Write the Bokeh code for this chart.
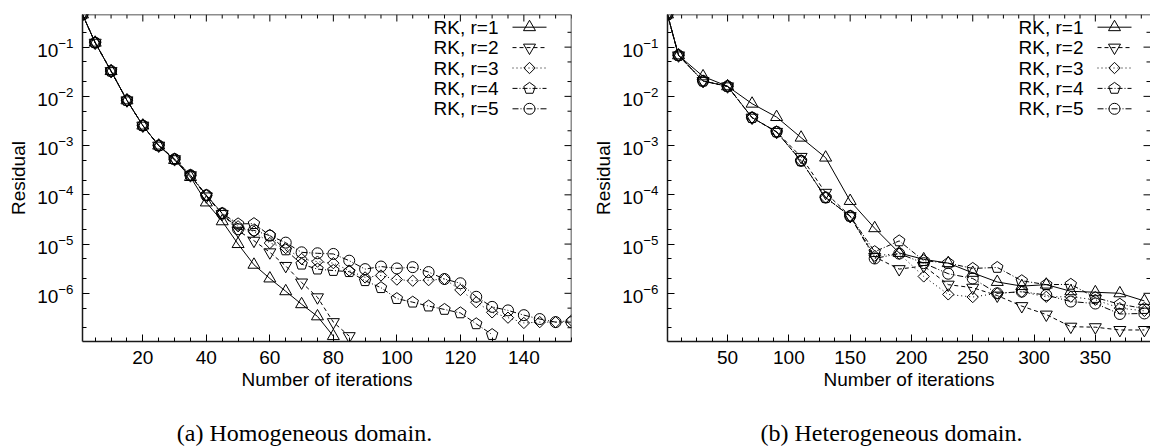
import math

from bokeh.core.properties import value
from bokeh.embed import file_html
from bokeh.layouts import column, row
from bokeh.models import FixedTicker, Range1d, Span
from bokeh.plotting import figure
from bokeh.resources import INLINE

# ---------------------------------------------------------------- data
SERIES = ["RK, r=1", "RK, r=2", "RK, r=3", "RK, r=4", "RK, r=5"]
CAPTIONS = ["(a) Homogeneous domain.", "(b) Heterogeneous domain."]
X_LABEL = "Number of iterations"
Y_LABEL = "Residual"

# homogeneous domain: residual sampled every 5 iterations
hom_iters = [1, 5, 10, 15, 20, 25, 30, 35, 40, 45, 50, 55, 60, 65, 70, 75, 80,
             85, 90, 95, 100, 105, 110, 115, 120, 125, 130, 135, 140, 145, 150, 155]
hom_r1 = [0.46, 0.123, 0.0326, 0.0083, 0.00255, 0.001, 5.1e-4, 2.3e-4, 7.0e-5,
          2.9e-5, 1.0e-5, 3.8e-6, 2.0e-6, 1.1e-6, 6.0e-7, 3.4e-7, 1.35e-7]
hom_r2 = [0.46, 0.123, 0.0326, 0.0083, 0.00255, 0.001, 5.3e-4, 2.5e-4, 9.3e-5,
          4.1e-5, 1.86e-5, 1.17e-5, 6.8e-6, 3.6e-6, 1.66e-6, 8.3e-7, 2.6e-7, 1.35e-7]
hom_r3 = [0.46, 0.123, 0.0326, 0.0083, 0.00255, 0.001, 5.3e-4, 2.5e-4, 9.8e-5,
          4.2e-5, 2.3e-5, 1.8e-5, 1.05e-5, 8.3e-6, 5.0e-6, 4.4e-6, 4.1e-6, 2.9e-6,
          2.1e-6, 2.3e-6, 1.9e-6, 1.8e-6, 1.85e-6, 1.95e-6, 1.17e-6, 6.6e-7, 4.1e-7,
          3.2e-7, 2.5e-7, 2.6e-7, 2.6e-7, 2.8e-7]
hom_r4 = [0.46, 0.123, 0.0326, 0.0083, 0.00255, 0.001, 5.3e-4, 2.5e-4, 9.8e-5,
          4.2e-5, 2.57e-5, 2.6e-5, 1.5e-5, 7.6e-6, 3.9e-6, 3.1e-6, 2.9e-6, 2.75e-6,
          1.8e-6, 1.3e-6, 7.8e-7, 6.6e-7, 5.5e-7, 4.7e-7, 4.0e-7, 2.4e-7, 1.45e-7]
hom_r5 = [0.46, 0.123, 0.0326, 0.0083, 0.00255, 0.001, 5.3e-4, 2.5e-4, 9.8e-5,
          4.2e-5, 2.0e-5, 1.9e-5, 1.48e-5, 1.07e-5, 6.8e-6, 6.5e-6, 6.3e-6, 4.6e-6,
          3.1e-6, 3.5e-6, 3.2e-6, 3.4e-6, 2.7e-6, 1.95e-6, 1.6e-6, 8.5e-7, 5.3e-7,
          4.5e-7, 3.6e-7, 3.0e-7, 2.6e-7, 2.6e-7]

# heterogeneous domain: residual sampled every 20 iterations
het_iters = [1, 10, 30, 50, 70, 90, 110, 130, 150, 170, 190, 210, 230, 250, 270,
             290, 310, 330, 350, 370, 390]
het_r1 = [0.46, 0.068, 0.0255, 0.016, 0.0071, 0.0038, 0.00145, 5.7e-4, 7.5e-5,
          2.1e-5, 6.6e-6, 4.9e-6, 4.1e-6, 2.6e-6, 1.7e-6, 1.4e-6, 1.5e-6, 1.1e-6,
          1.05e-6, 1.0e-6, 7.0e-7]
het_r2 = [0.46, 0.068, 0.0205, 0.016, 0.0037, 0.0019, 5.9e-4, 1.1e-4, 3.7e-5,
          5.5e-6, 3.1e-6, 3.6e-6, 1.5e-6, 1.3e-6, 9.0e-7, 5.5e-7, 3.7e-7, 2.1e-7,
          2.05e-7, 1.8e-7, 1.8e-7]
het_r3 = [0.46, 0.068, 0.0205, 0.016, 0.0037, 0.0019, 4.9e-4, 8.8e-5, 3.7e-5,
          5.8e-6, 6.4e-6, 2.2e-6, 9.5e-7, 8.4e-7, 1.0e-6, 1.07e-6, 8.5e-7, 8.5e-7,
          7.4e-7, 5.0e-7, 4.4e-7]
het_r4 = [0.46, 0.068, 0.0205, 0.016, 0.0037, 0.0019, 4.9e-4, 8.8e-5, 3.7e-5,
          7.0e-6, 1.16e-5, 4.6e-6, 4.1e-6, 3.2e-6, 3.35e-6, 1.8e-6, 1.5e-6, 1.52e-6,
          8.2e-7, 6.0e-7, 4.9e-7]
het_r5 = [0.46, 0.068, 0.0205, 0.016, 0.0037, 0.0019, 4.9e-4, 8.8e-5, 3.7e-5,
          5.1e-6, 6.4e-6, 4.1e-6, 2.5e-6, 2.0e-6, 1.0e-6, 1.08e-6, 9.2e-7, 6.8e-7,
          6.2e-7, 3.8e-7, 3.9e-7]

hom_ticks = [20, 40, 60, 80, 100, 120, 140]
het_ticks = [50, 100, 150, 200, 250, 300, 350]
y_ticks = [1e-6, 1e-5, 1e-4, 1e-3, 1e-2, 1e-1]

# ---------------------------------------------------------------- style
FONT = "Liberation Sans"
FONT_SIZE = "19px"
INK = "black"
BORDER = "#1a1a1a"
DASHES = ["solid", "4 3", "1 3", "5 2 1 2", "6 2 1 2 1 2"]
MARKERS = ["triangle", "inverted_triangle", "diamond", "pentagon", "circle"]

Y_MIN, Y_MAX = 1.05e-7, 0.46
PANEL_H = 400
FRAME_TOP, FRAME_BOTTOM = 14, 59
MAJOR_LEN, MINOR_LEN = 7, 4


def draw_markers(p, xs, ys, kind):
    common = dict(fill_color=None, line_color=INK, line_width=1)
    if kind == "diamond":
        p.scatter(xs, ys, marker="square", angle=math.pi / 4, size=8, **common)
    elif kind == "pentagon":
        try:
            p.ngon(x=xs, y=ys, radius=6, radius_units="screen", n=5,
                   angle=0, **common)
        except Exception:
            p.scatter(xs, ys, marker="hex", size=11, **common)
    elif kind == "circle":
        p.scatter(xs, ys, marker="circle", size=11, **common)
    else:
        p.scatter(xs, ys, marker=kind, size=12, **common)


def style_axis(ax, ticker):
    ax.ticker = ticker
    ax.major_tick_in, ax.major_tick_out = MAJOR_LEN, 0
    ax.minor_tick_in, ax.minor_tick_out = MINOR_LEN, 0
    ax.major_tick_line_color = INK
    ax.minor_tick_line_color = INK
    ax.axis_line_color = BORDER
    ax.axis_line_width = 1.5
    ax.major_label_text_font = FONT
    ax.major_label_text_font_size = FONT_SIZE
    ax.major_label_text_color = INK
    ax.major_label_standoff = 9
    ax.axis_label_text_font = FONT
    ax.axis_label_text_font_size = FONT_SIZE
    ax.axis_label_text_font_style = "normal"
    ax.axis_label_text_color = INK


def make_panel(iters, series, x_max, x_major, x_step, border_left,
               border_right, width, right_border):
    frame_w = width - border_left - border_right
    frame_h = PANEL_H - FRAME_TOP - FRAME_BOTTOM
    lo, hi = math.log10(Y_MIN), math.log10(Y_MAX)
    units_per_px = (x_max - 1) / frame_w
    decades_per_px = (hi - lo) / frame_h

    p = figure(width=width, height=PANEL_H, x_range=Range1d(1, x_max),
               y_range=Range1d(Y_MIN, Y_MAX), y_axis_type="log",
               output_backend="svg", toolbar_location=None,
               min_border_left=border_left, min_border_right=border_right,
               min_border_top=FRAME_TOP, min_border_bottom=FRAME_BOTTOM)
    p.xgrid.visible = False
    p.ygrid.visible = False
    p.outline_line_color = None
    p.background_fill_color = "white"
    p.border_fill_color = "white"

    x_minor = [v for v in (k * x_step for k in range(1, 400))
               if v <= x_max and v not in x_major]
    y_minor = [m * t / 10 for t in y_ticks + [1.0] for m in (2, 5)]
    y_minor = [v for v in y_minor if Y_MIN < v < Y_MAX]

    style_axis(p.xaxis[0], FixedTicker(ticks=x_major, minor_ticks=x_minor))
    p.xaxis[0].axis_label = X_LABEL
    p.xaxis[0].axis_label_standoff = 2
    style_axis(p.yaxis[0], FixedTicker(ticks=y_ticks, minor_ticks=y_minor))
    p.yaxis[0].axis_label = Y_LABEL
    p.yaxis[0].axis_label_standoff = 5

    # top border (and right border on the first panel) with mirrored ticks
    p.add_layout(Span(location=Y_MAX, dimension="width",
                      line_color=BORDER, line_width=1.5))
    if right_border:
        p.add_layout(Span(location=x_max, dimension="height",
                          line_color=BORDER, line_width=1.5))
    for ticks, length in ((x_major, MAJOR_LEN), (x_minor, MINOR_LEN)):
        y_end = Y_MAX * 10 ** (-length * decades_per_px)
        p.segment(x0=ticks, y0=[Y_MAX] * len(ticks), x1=ticks,
                  y1=[y_end] * len(ticks), line_color=INK, line_width=1)
    for ticks, length in ((y_ticks, MAJOR_LEN), (y_minor, MINOR_LEN)):
        x_end = x_max - length * units_per_px
        p.segment(x0=[x_max] * len(ticks), y0=ticks, x1=[x_end] * len(ticks),
                  y1=ticks, line_color=INK, line_width=1)

    for vals, dash, mk in zip(series, DASHES, MARKERS):
        xs = iters[:len(vals)]
        p.line(xs, vals, line_color=INK, line_width=1, line_dash=dash)
        draw_markers(p, xs, vals, mk)

    # key in the upper right corner: label, line sample, marker
    def fx(px):
        return 1 + px * units_per_px

    def fy(py):
        return 10 ** (hi - py * decades_per_px)

    for i, (name, dash, mk) in enumerate(zip(SERIES, DASHES, MARKERS)):
        yy = fy(12.7 + 20.4 * i)
        p.text(x=[fx(416)], y=[yy], text=[name], text_align="right",
               text_baseline="middle", text_font=value(FONT),
               text_font_size=FONT_SIZE, text_color=INK)
        p.line([fx(430), fx(464)], [yy, yy], line_color=INK, line_width=1,
               line_dash=dash)
        draw_markers(p, [fx(447)], [yy], mk)
    return p


p1 = make_panel(hom_iters, [hom_r1, hom_r2, hom_r3, hom_r4, hom_r5],
                x_max=155, x_major=hom_ticks, x_step=5, border_left=82,
                border_right=4, width=575, right_border=True)
p2 = make_panel(het_iters, [het_r1, het_r2, het_r3, het_r4, het_r5],
                x_max=395, x_major=het_ticks, x_step=12.5, border_left=92,
                border_right=0, width=575, right_border=False)

cap = figure(width=1150, height=48, x_range=Range1d(0, 1150),
             y_range=Range1d(0, 48), output_backend="svg",
             toolbar_location=None, x_axis_location=None,
             y_axis_location=None, min_border=0)
cap.xgrid.visible = False
cap.ygrid.visible = False
cap.outline_line_color = None
cap.text(x=[304, 891], y=[16, 16], text=CAPTIONS, text_align="center",
         text_baseline="middle", text_font=value("Liberation Serif"),
         text_font_size="24px", text_color=INK)

layout = column(row(p1, p2), cap)
open("out.html", "w").write(file_html(layout, INLINE))
